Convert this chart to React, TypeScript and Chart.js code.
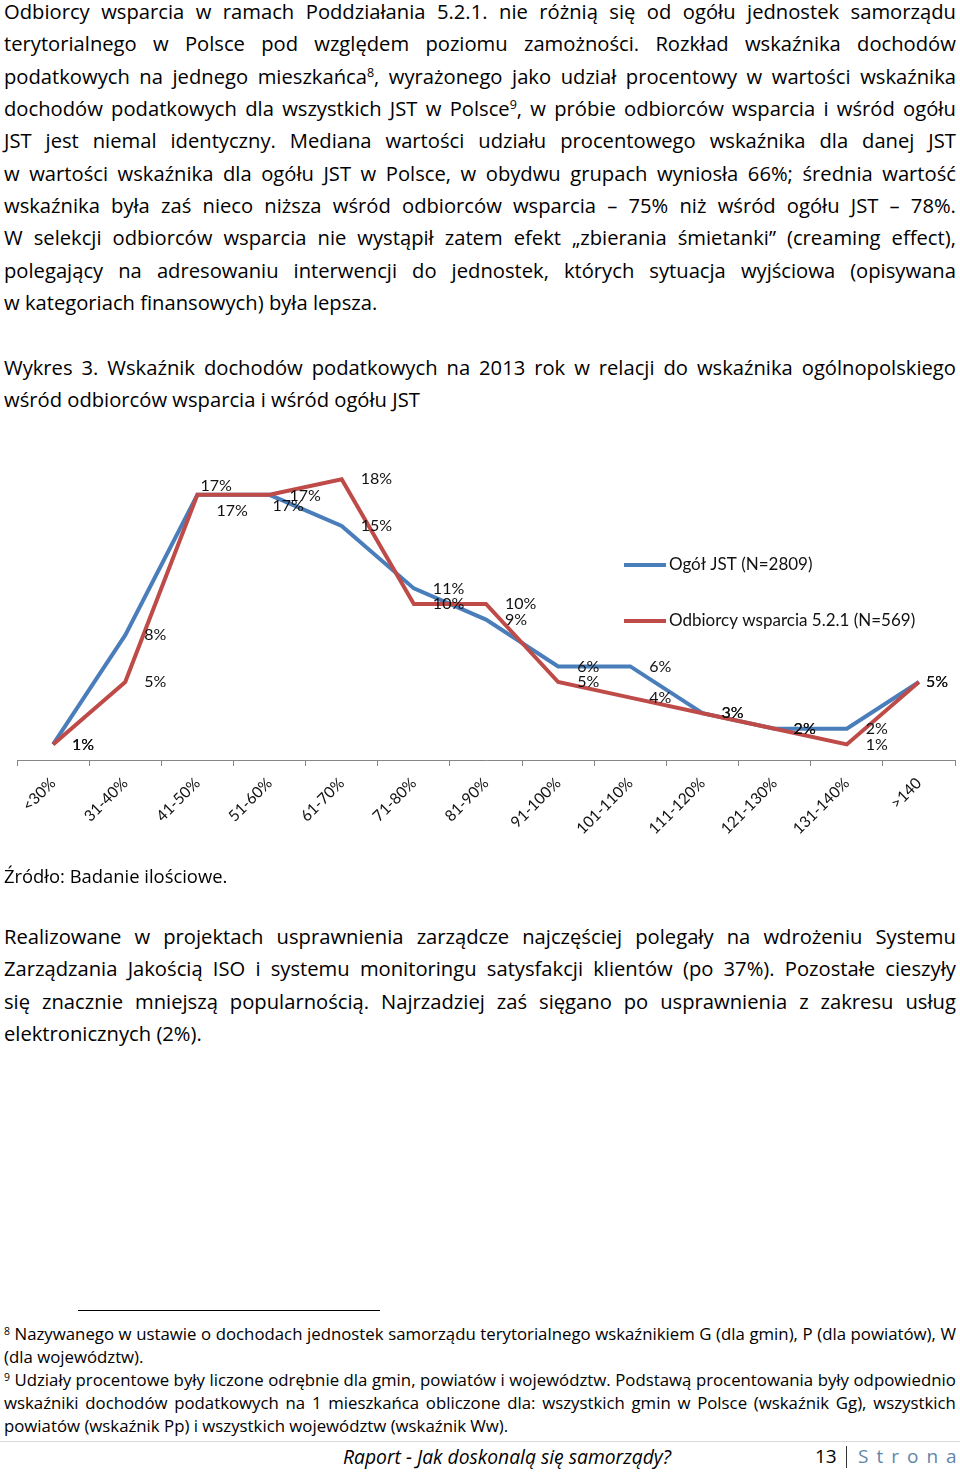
import React, { useEffect, useRef } from "react";
import { Chart, registerables } from "chart.js";

Chart.register(...registerables);

// ---------- chart data ----------
const categories = [
  "<30%", "31-40%", "41-50%", "51-60%", "61-70%", "71-80%", "81-90%",
  "91-100%", "101-110%", "111-120%", "121-130%", "131-140%", ">140",
];
const ogolJst = [1, 8, 17, 17, 15, 11, 9, 6, 6, 3, 2, 2, 5];
const odbiorcy = [1, 5, 17, 17, 18, 10, 10, 5, 4, 3, 2, 1, 5];
const seriesNames = ["Ogół JST (N=2809)", "Odbiorcy wsparcia 5.2.1 (N=569)"];
const seriesColors = ["#4A7EBB", "#BE4B48"];

// ---------- page text ----------
const para1 = [
  "Odbiorcy wsparcia w ramach Poddziałania 5.2.1. nie różnią się od ogółu jednostek samorządu",
  "terytorialnego w Polsce pod względem poziomu zamożności. Rozkład wskaźnika dochodów",
  "podatkowych na jednego mieszkańca{8}, wyrażonego jako udział procentowy w wartości wskaźnika",
  "dochodów podatkowych dla wszystkich JST w Polsce{9}, w próbie odbiorców wsparcia i wśród ogółu",
  "JST jest niemal identyczny. Mediana wartości udziału procentowego wskaźnika dla danej JST",
  "w wartości wskaźnika dla ogółu JST w Polsce, w obydwu grupach wyniosła 66%; średnia wartość",
  "wskaźnika była zaś nieco niższa wśród odbiorców wsparcia – 75% niż wśród ogółu JST – 78%.",
  "W selekcji odbiorców wsparcia nie wystąpił zatem efekt „zbierania śmietanki” (creaming effect),",
  "polegający na adresowaniu interwencji do jednostek, których sytuacja wyjściowa (opisywana",
  "w kategoriach finansowych) była lepsza.",
];
const caption = [
  "Wykres 3. Wskaźnik dochodów podatkowych na 2013 rok w relacji do wskaźnika ogólnopolskiego",
  "wśród odbiorców wsparcia i wśród ogółu JST",
];
const sourceText = "Źródło: Badanie ilościowe.";
const para3 = [
  "Realizowane w projektach usprawnienia zarządcze najczęściej polegały na wdrożeniu Systemu",
  "Zarządzania Jakością ISO i systemu monitoringu satysfakcji klientów (po 37%). Pozostałe cieszyły",
  "się znacznie mniejszą popularnością. Najrzadziej zaś sięgano po usprawnienia z zakresu usług",
  "elektronicznych (2%).",
];
const footnotes = [
  "{8} Nazywanego w ustawie o dochodach jednostek samorządu terytorialnego wskaźnikiem G (dla gmin), P (dla powiatów), W",
  "(dla województw).",
  "{9} Udziały procentowe były liczone odrębnie dla gmin, powiatów i województw. Podstawą procentowania były odpowiednio",
  "wskaźniki dochodów podatkowych na 1 mieszkańca obliczone dla: wszystkich gmin w Polsce (wskaźnik Gg), wszystkich",
  "powiatów (wskaźnik Pp) i wszystkich województw (wskaźnik Ww).",
];
const footerTitle = "Raport - Jak doskonalą się samorządy?";
const pageNumber = "13";
const pageWord = "Strona";

const FONT = "'Open Sans', Lato, sans-serif";
const CHART_FONT = "Lato, 'Open Sans', sans-serif";

function renderWord(w: string, key: number) {
  const parts = w.split(/\{(\d+)\}/);
  return (
    <span key={key} style={{ whiteSpace: "nowrap" }}>
      {parts.map((p, i) =>
        i % 2 === 1 ? (
          <span
            key={i}
            style={{ fontSize: "0.62em", position: "relative", top: "-0.55em" }}
          >
            {p}
          </span>
        ) : (
          <React.Fragment key={i}>{p}</React.Fragment>
        )
      )}
    </span>
  );
}

function TextLine(props: {
  text: string;
  baseline: number;
  size: number;
  justify?: boolean;
  italic?: boolean;
  left?: number;
  width?: number;
}) {
  const { text, baseline, size, justify, italic } = props;
  const left = props.left ?? 4;
  const width = props.width ?? 952;
  const lh = size * 1.2;
  const top = baseline - 0.988 * size;
  const base: React.CSSProperties = {
    position: "absolute",
    left,
    top,
    height: lh,
    lineHeight: lh + "px",
    fontSize: size,
    fontStyle: italic ? "italic" : "normal",
    whiteSpace: "nowrap",
  };
  const words = text.split(" ");
  if (justify) {
    return (
      <div style={{ ...base, width, display: "flex", justifyContent: "space-between" }}>
        {words.map((w, i) => renderWord(w, i))}
      </div>
    );
  }
  return (
    <div style={base}>
      {words.map((w, i) => (
        <React.Fragment key={i}>
          {i > 0 ? " " : ""}
          {renderWord(w, i)}
        </React.Fragment>
      ))}
    </div>
  );
}

// ---------- chart plugins ----------
const pointLabelPlugin = {
  id: "pointLabels",
  afterDatasetsDraw(chart: any, _args: any, opts: any) {
    const ctx = chart.ctx;
    ctx.save();
    ctx.font = opts.font;
    ctx.fillStyle = opts.color;
    ctx.textAlign = "left";
    ctx.textBaseline = "middle";
    chart.data.datasets.forEach((ds: any, di: number) => {
      const meta = chart.getDatasetMeta(di);
      meta.data.forEach((el: any, i: number) => {
        const off = opts.offsets[di + ":" + i] || opts.defaultOffset;
        ctx.fillText(ds.data[i] + "%", el.x + off[0], el.y + off[1]);
      });
    });
    ctx.restore();
  },
};

const sideLegendPlugin = {
  id: "sideLegend",
  afterDraw(chart: any, _args: any, opts: any) {
    const ctx = chart.ctx;
    ctx.save();
    ctx.font = opts.font;
    ctx.fillStyle = opts.color;
    ctx.textAlign = "left";
    ctx.textBaseline = "middle";
    chart.data.datasets.forEach((ds: any, i: number) => {
      const y = opts.y + i * opts.gap;
      ctx.strokeStyle = ds.borderColor;
      ctx.lineWidth = 4;
      ctx.lineCap = "butt";
      ctx.beginPath();
      ctx.moveTo(opts.x, y);
      ctx.lineTo(opts.x + opts.len, y);
      ctx.stroke();
      ctx.fillText(ds.label, opts.x + opts.len + 3, y);
    });
    ctx.restore();
  },
};

function LineChart() {
  const ref = useRef<HTMLCanvasElement | null>(null);
  useEffect(() => {
    if (!ref.current) return;
    const chart = new Chart(ref.current, {
      type: "line",
      data: {
        labels: categories,
        datasets: [
          {
            label: seriesNames[0],
            data: ogolJst,
            borderColor: seriesColors[0],
            backgroundColor: seriesColors[0],
            borderWidth: 4,
            pointRadius: 0,
            tension: 0,
            order: 2,
          },
          {
            label: seriesNames[1],
            data: odbiorcy,
            borderColor: seriesColors[1],
            backgroundColor: seriesColors[1],
            borderWidth: 4,
            pointRadius: 0,
            tension: 0,
            order: 1,
          },
        ],
      },
      plugins: [pointLabelPlugin, sideLegendPlugin],
      options: {
        responsive: false,
        animation: false,
        devicePixelRatio: 1,
        layout: { padding: { top: 8, left: 17, right: 5, bottom: 0 } },
        plugins: {
          legend: { display: false },
          tooltip: { enabled: false },
          pointLabels: {
            font: "16px " + CHART_FONT,
            color: "#111",
            defaultOffset: [19, 0],
            offsets: {
              "0:2": [19, 16],
              "1:2": [3, -9],
              "0:3": [3, 11],
              "1:3": [20, 1],
              "0:12": [7, 0],
              "1:12": [7, 0],
            },
          },
          sideLegend: {
            x: 624,
            y: 125,
            gap: 56,
            len: 42,
            font: "17px " + CHART_FONT,
            color: "#111",
          },
        } as any,
        scales: {
          x: {
            offset: true,
            afterFit: (scale: any) => {
              scale.height = 120;
            },
            grid: {
              offset: true,
              drawOnChartArea: false,
              drawTicks: true,
              tickLength: 6,
              color: "#868686",
            },
            border: { display: true, color: "#868686", width: 1 },
            ticks: {
              maxRotation: 45,
              minRotation: 45,
              autoSkip: false,
              padding: 8,
              color: "#111",
              font: { family: CHART_FONT, size: 15.5 },
            },
          },
          y: {
            display: false,
            min: 0,
            max: 20,
          },
        },
      },
    });
    return () => chart.destroy();
  }, []);
  return (
    <canvas
      ref={ref}
      width={960}
      height={440}
      style={{ position: "absolute", left: 0, top: 440, width: 960, height: 440 }}
    />
  );
}

export default function App() {
  const p1Base = 19;
  const step = 32.33;
  const bodySize = 20.2;
  return (
    <div
      style={{
        position: "absolute",
        left: 0,
        top: 0,
        width: 960,
        height: 1472,
        background: "#fff",
        overflow: "hidden",
        fontFamily: FONT,
        color: "#000",
      }}
    >
      {para1.map((t, i) => (
        <TextLine key={"p1" + i} text={t} baseline={p1Base + i * step} size={bodySize} justify={i < para1.length - 1} />
      ))}
      {caption.map((t, i) => (
        <TextLine key={"c" + i} text={t} baseline={375 + i * step} size={bodySize} justify={i === 0} />
      ))}
      <LineChart />
      <TextLine text={sourceText} baseline={883} size={18.4} />
      {para3.map((t, i) => (
        <TextLine key={"p3" + i} text={t} baseline={944 + i * step} size={bodySize} justify={i < para3.length - 1} />
      ))}
      <div style={{ position: "absolute", left: 78, top: 1310, width: 302, height: 1, background: "#000" }} />
      {footnotes.map((t, i) => (
        <TextLine key={"f" + i} text={t} baseline={1341 + i * 23} size={16.8} justify={i === 0 || i === 2 || i === 3} />
      ))}
      <div style={{ position: "absolute", left: 0, top: 1441, width: 960, height: 1, background: "#d9d9d9" }} />
      <TextLine text={footerTitle} baseline={1464} size={19.3} italic left={343} />
      <TextLine text={pageNumber} baseline={1464} size={19} left={815} />
      <div style={{ position: "absolute", left: 846, top: 1446, width: 1, height: 22, background: "#333" }} />
      <div
        style={{
          position: "absolute",
          left: 858,
          top: 1464 - 0.988 * 19,
          height: 19 * 1.2,
          lineHeight: 19 * 1.2 + "px",
          fontSize: 19,
          letterSpacing: 8,
          color: "#5f86aa",
          whiteSpace: "nowrap",
        }}
      >
        {pageWord}
      </div>
    </div>
  );
}
